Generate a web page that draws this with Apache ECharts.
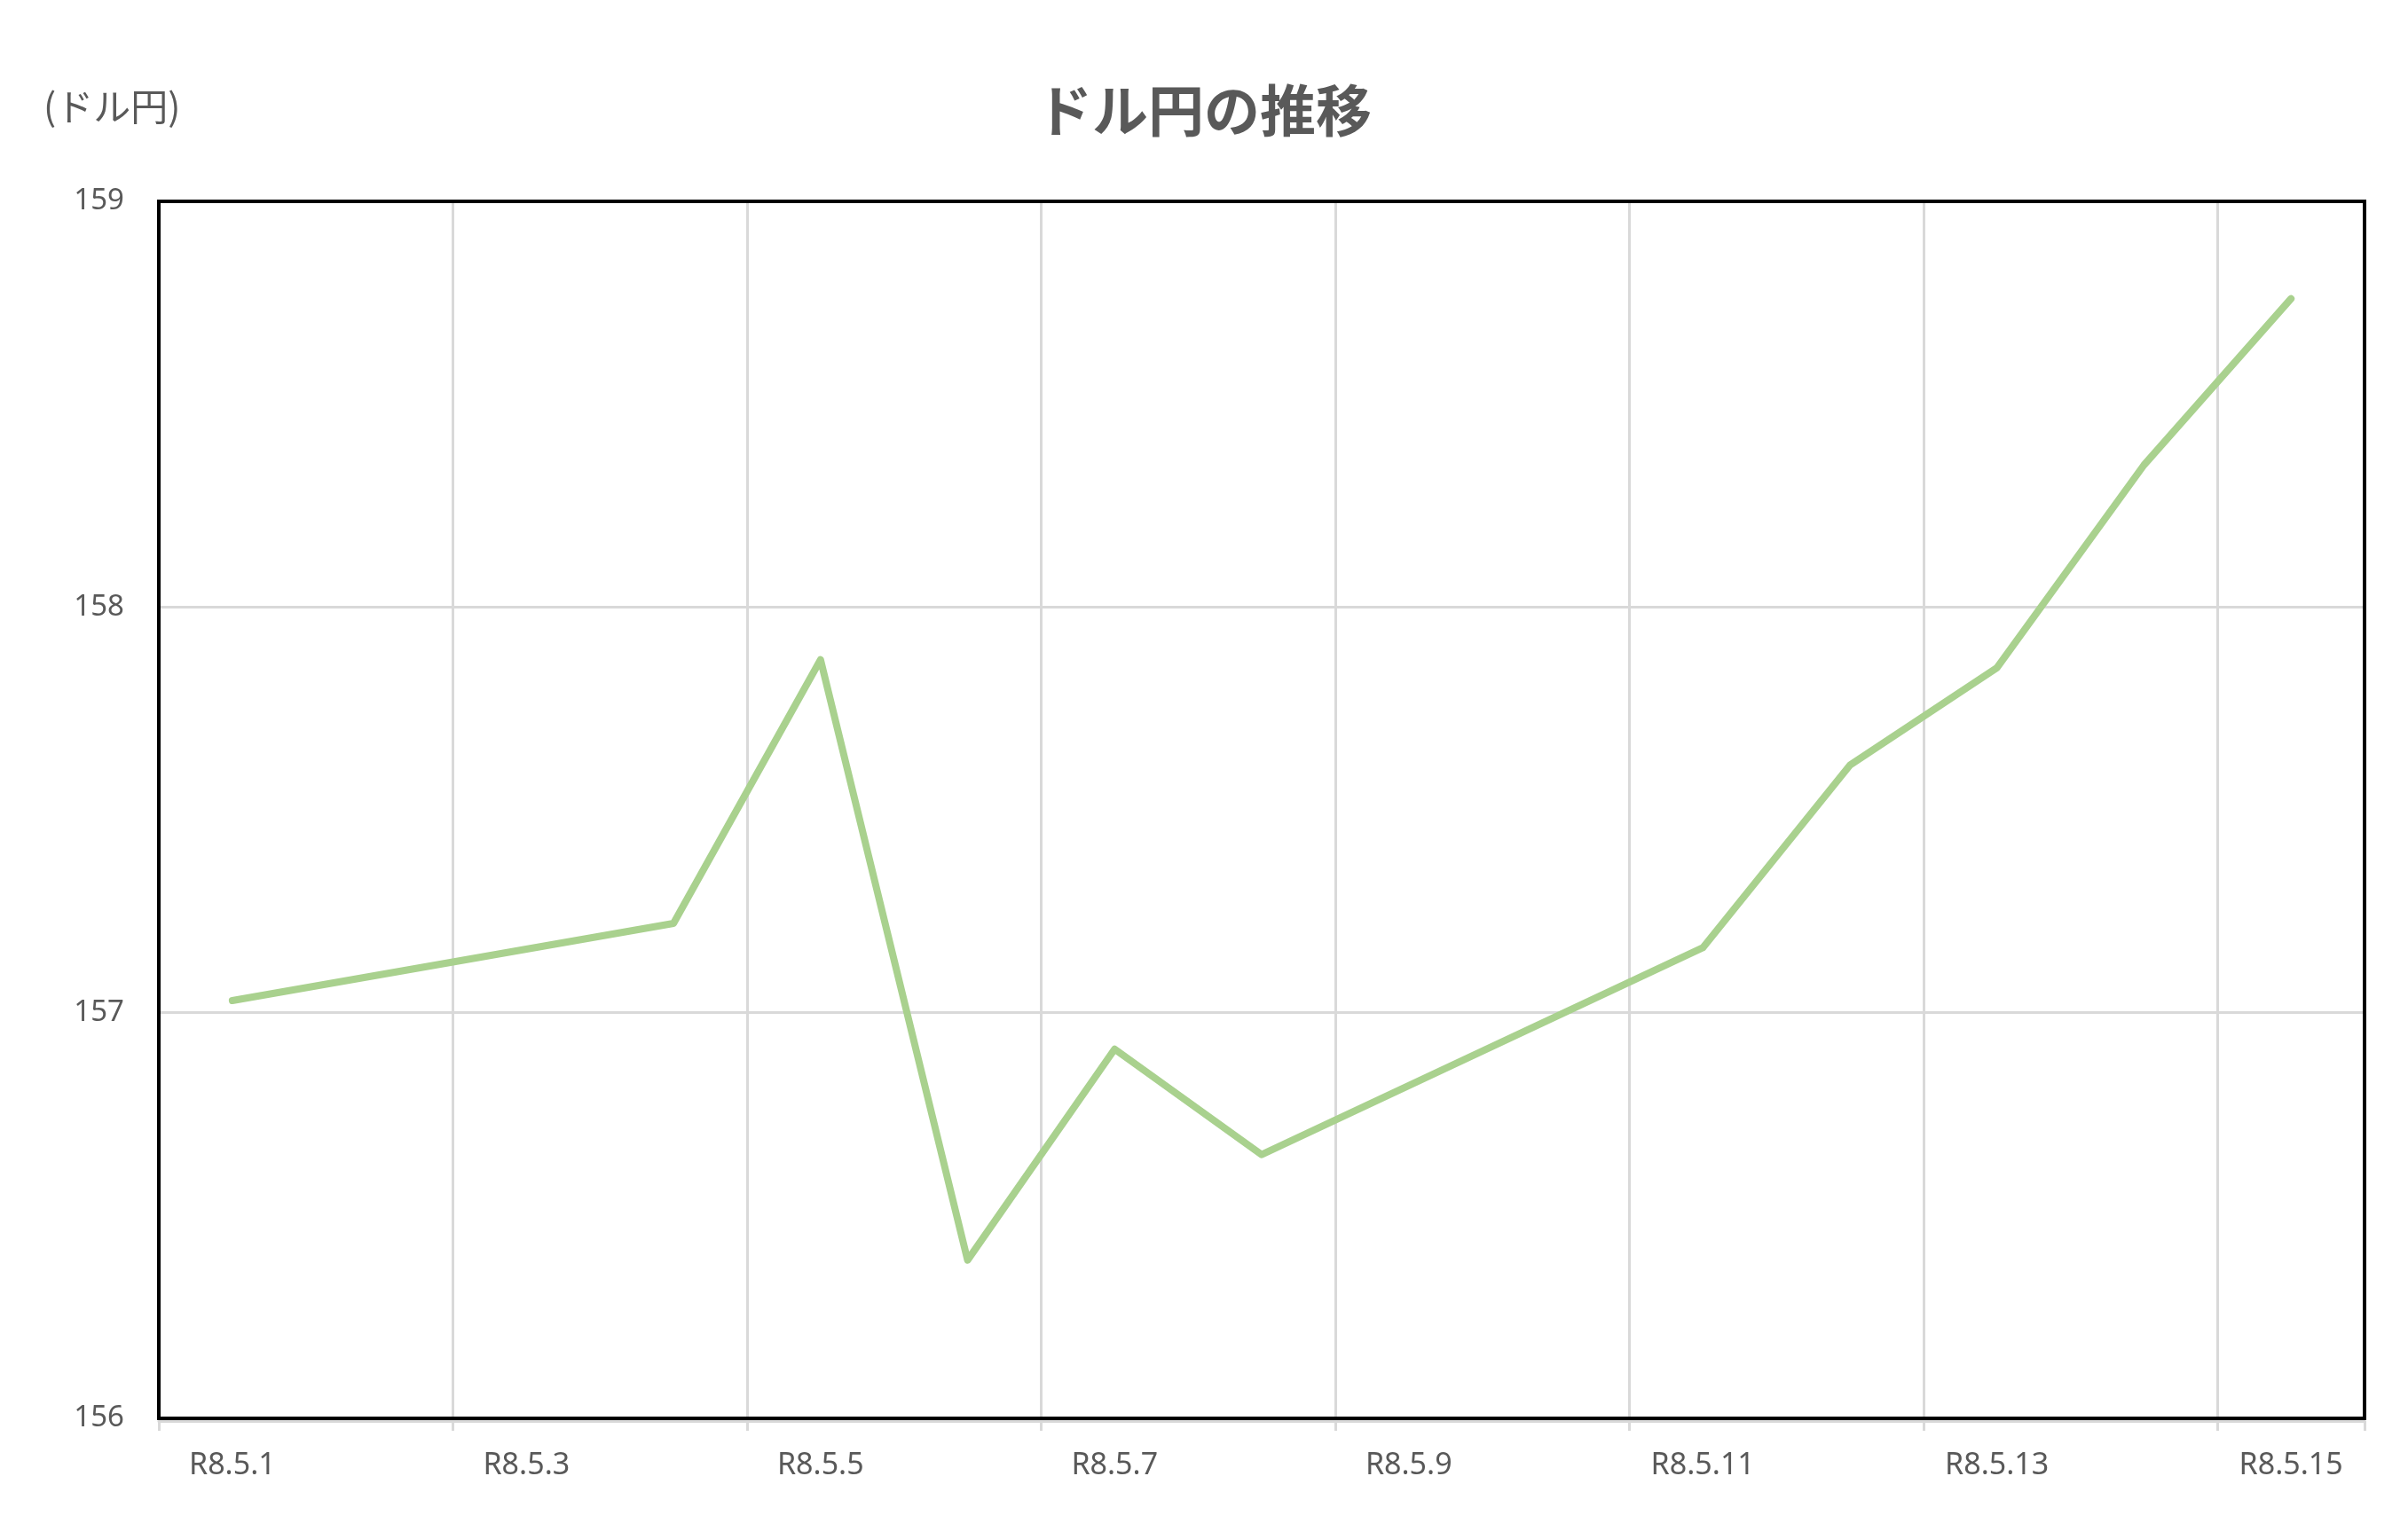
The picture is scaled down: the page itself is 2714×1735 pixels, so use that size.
<!DOCTYPE html>
<html>
<head>
<meta charset="utf-8">
<style>
  html, body { margin: 0; padding: 0; background: #ffffff; }
  #chart { width: 2714px; height: 1735px; }
</style>
<script src="https://cdn.jsdelivr.net/npm/echarts@6/dist/echarts.min.js"></script>
</head>
<body>
<div id="chart"></div>
<script>
const titleText = 'ドル円の推移';
const unitText = '(ドル円)';
const categories = ['R8.5.1','R8.5.2','R8.5.3','R8.5.4','R8.5.5','R8.5.6','R8.5.7','R8.5.8',
                    'R8.5.9','R8.5.10','R8.5.11','R8.5.12','R8.5.13','R8.5.14','R8.5.15'];
const usdJpy = [157.03, null, null, 157.22, 157.87, 156.39, 156.91, 156.65,
                null, null, 157.16, 157.61, 157.85, 158.35, 158.76];
const yMin = 156, yMax = 159, yStep = 1;

const chart = echarts.init(document.getElementById('chart'), null, { renderer: 'canvas' });
const textColor = '#595959';
const gridColor = '#D9D9D9';
chart.setOption({
  animation: false,
  backgroundColor: '#ffffff',
  title: [
    {
      text: titleText,
      left: 'center',
      top: 88,
      textStyle: { fontFamily: '"Noto Sans CJK JP", sans-serif', fontSize: 63, fontWeight: 'bold', color: textColor }
    },
    {
      text: unitText,
      left: 44,
      top: 94,
      textStyle: { fontFamily: '"Noto Sans CJK JP", sans-serif', fontSize: 42, fontWeight: 'normal', color: textColor }
    }
  ],
  grid: {
    left: 179, right: 49, top: 227, bottom: 136, z: 10,
    show: true, borderColor: '#000000', borderWidth: 4, backgroundColor: 'transparent'
  },
  xAxis: {
    type: 'category',
    data: categories,
    boundaryGap: true,
    offset: 3,
    axisLine: { show: true, lineStyle: { color: gridColor, width: 3 } },
    axisTick: { show: true, interval: 1, length: 11, lineStyle: { color: gridColor, width: 3 } },
    axisLabel: { interval: 1, margin: 33, fontFamily: '"Noto Sans", sans-serif', fontSize: 34, color: textColor },
    splitLine: { show: true, interval: 1, lineStyle: { color: gridColor, width: 3 } }
  },
  yAxis: {
    type: 'value',
    min: yMin, max: yMax, interval: yStep,
    axisLine: { show: false },
    axisTick: { show: false },
    axisLabel: { margin: 39, fontFamily: '"Noto Sans", sans-serif', fontSize: 33, color: textColor },
    splitLine: { show: true, lineStyle: { color: gridColor, width: 3 } }
  },
  series: [{
    type: 'line',
    data: usdJpy,
    connectNulls: true,
    showSymbol: false,
    symbol: 'none',
    smooth: false,
    lineStyle: { color: '#A9D18E', width: 8, cap: 'round', join: 'round' },
    itemStyle: { color: '#A9D18E' }
  }]
});
</script>
</body>
</html>
